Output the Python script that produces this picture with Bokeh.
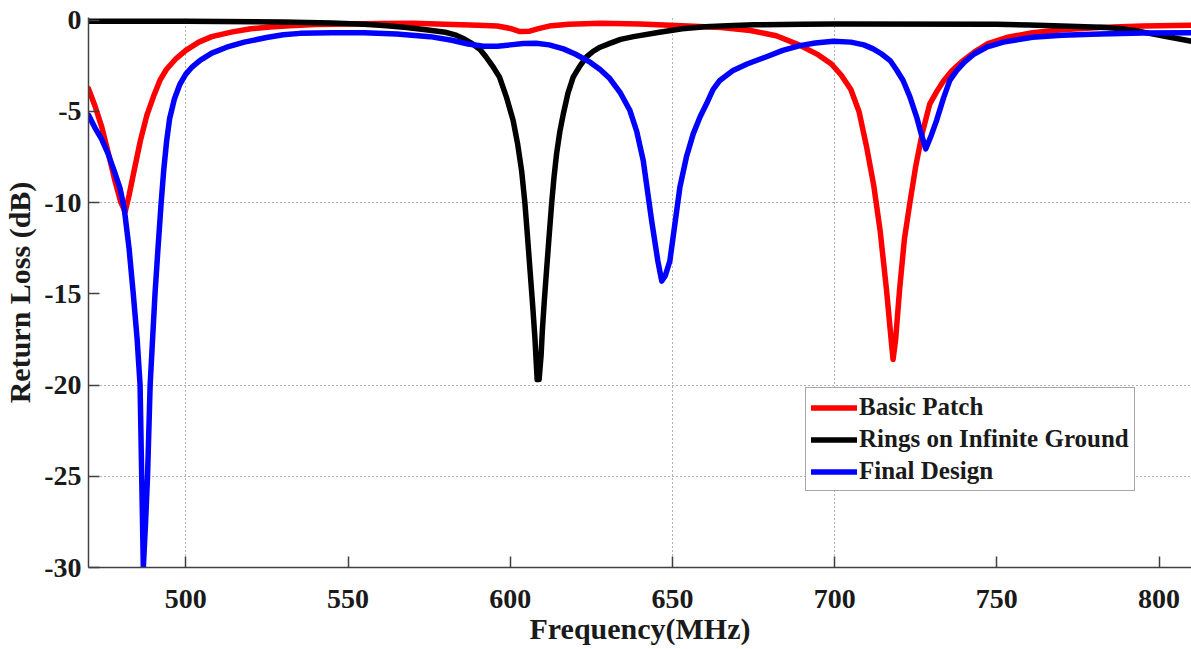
from bokeh.plotting import figure
from bokeh.models import Range1d, FixedTicker, ColumnDataSource
from bokeh.embed import file_html
from bokeh.resources import INLINE

# ---- data ----
basic_f = [470, 472, 474, 476, 478, 480, 481.3, 482.5, 484, 486, 488, 490, 492, 494, 497, 500,
           504, 508, 514, 520, 526, 532, 540, 550, 560, 570, 580, 590, 596, 600, 603, 606,
           609, 612, 618, 628, 640, 653, 665, 674, 682, 689, 695, 699, 702, 705, 707.5,
           709.8, 712, 714, 716, 717.3, 718, 718.8, 720, 721.5, 723.2, 725, 727, 729.3,
           731.5, 733.5, 736, 739, 743, 747, 753, 761, 770, 781.7, 795, 810]
basic_db = [-3.75, -4.7, -5.8, -7.2, -8.7, -10.0, -10.5, -9.6, -8.3, -6.6, -5.2, -4.2, -3.3, -2.7, -2.1, -1.65,
            -1.2, -0.9, -0.65, -0.47, -0.37, -0.3, -0.24, -0.2, -0.18, -0.17, -0.22, -0.27, -0.32, -0.45, -0.62, -0.6,
            -0.45, -0.32, -0.22, -0.17, -0.2, -0.3, -0.4, -0.56, -0.85, -1.35, -1.9, -2.4, -3.0, -3.8, -5.0,
            -6.9, -9.0, -11.5, -14.8, -17.3, -18.6, -17.5, -14.8, -12.0, -10.0, -8.0, -6.2, -4.6,
            -3.9, -3.35, -2.8, -2.3, -1.75, -1.3, -0.95, -0.68, -0.52, -0.4, -0.32, -0.28]

rings_f = [470, 500, 530, 545, 555, 562, 568, 574, 580, 583, 585.5, 588, 590.7, 592.5, 594.5,
           596.7, 598.8, 600.9, 602.3, 603.5, 604.5, 605.3, 606.1, 606.9, 607.6, 608.3, 608.9,
           609.5, 609.9, 610.5, 611.2, 612, 612.8, 613.5, 614.3, 615.3, 616.4, 617.8, 619.4,
           621.5, 623.6, 625.6, 627.7, 630.7, 634, 638, 646, 653, 660, 667, 675, 690, 700,
           750, 760, 770, 782, 788, 793, 797, 803, 810]
rings_db = [-0.05, -0.06, -0.1, -0.15, -0.22, -0.3, -0.4, -0.52, -0.66, -0.8, -1.0, -1.25, -1.6, -2.0, -2.5,
            -3.12, -4.2, -5.5, -6.8, -8.24, -9.98, -11.8, -13.7, -15.6, -17.4, -19.7, -19.7,
            -18.4, -17.0, -15.4, -13.7, -11.8, -9.98, -8.6, -7.3, -6.1, -5.1, -4.0, -3.12,
            -2.5, -2.0, -1.7, -1.48, -1.27, -1.05, -0.9, -0.66, -0.47, -0.36, -0.3, -0.25, -0.22, -0.2,
            -0.22, -0.26, -0.32, -0.38, -0.45, -0.58, -0.72, -0.92, -1.15]

final_f = [470, 472, 474, 476, 478, 479.7, 481, 482.5, 483.8, 485, 485.9, 486.4, 486.9, 487.6,
           488.2, 489, 490.5, 491.5, 492.4, 493.2, 494.1, 495, 496.5, 498.2, 500, 502, 504.4,
           508, 512.6, 518, 524.9, 530, 535.2, 545, 555, 565, 575.3, 582, 587, 591.7, 596,
           600, 604, 608, 612, 616.4, 620, 624.6, 627.7, 630.7, 634, 636.9, 639, 641, 643.6,
           645.5, 646.7, 647.8, 649.2, 650.5, 652.3, 654.3, 656.4, 658.5, 660.5, 662.5, 664.6,
           668.7, 673, 679, 684, 689.3, 694, 699.6, 705, 709, 711.9, 714.5, 717.1, 719, 721.1,
           723.2, 725.3, 726.8, 728.1, 729.8, 731.4, 733.5, 735.5, 737.6, 740, 743, 746.8, 752,
           761, 770, 781.7, 795, 810]
final_db = [-5.2, -5.9, -6.5, -7.3, -8.3, -9.2, -10.3, -12.5, -15.0, -17.5, -20.0, -25.0, -30.0, -27.5,
            -25.0, -20.0, -15.0, -12.3, -10.0, -8.2, -6.6, -5.4, -4.3, -3.5, -2.95, -2.55, -2.2,
            -1.8, -1.48, -1.2, -0.95, -0.8, -0.72, -0.68, -0.68, -0.75, -0.9, -1.1, -1.3, -1.42, -1.42,
            -1.35, -1.28, -1.26, -1.35, -1.57, -1.85, -2.3, -2.7, -3.2, -4.0, -4.95, -6.1, -7.7, -11.0,
            -13.2, -14.3, -14.0, -13.2, -11.5, -9.15, -7.5, -6.23, -5.3, -4.58, -3.8, -3.3,
            -2.75, -2.4, -2.0, -1.65, -1.39, -1.25, -1.15, -1.2, -1.35, -1.57, -1.85, -2.21, -2.7, -3.3,
            -4.2, -5.32, -6.3, -7.05, -6.3, -5.5, -4.3, -3.3, -2.76, -2.3, -1.85, -1.48, -1.2,
            -0.93, -0.82, -0.75, -0.7, -0.68]

x_ticks = [500, 550, 600, 650, 700, 750, 800]
y_ticks = [0, -5, -10, -15, -20, -25, -30]
x_grid = [500, 650, 700]
y_grid = [-10, -20, -25]
x_title = "Frequency(MHz)"
y_title = "Return Loss (dB)"

FONT = "Liberation Serif"

p = figure(width=1191, height=649, output_backend="svg", toolbar_location=None,
           x_range=Range1d(470, 810), y_range=Range1d(-30, 0.15),
           min_border_left=88, min_border_right=0, min_border_top=17, min_border_bottom=82)
p.outline_line_color = None
p.background_fill_color = "white"
p.border_fill_color = "white"

series = [(basic_f, basic_db, "red", "Basic Patch"),
          (rings_f, rings_db, "black", "Rings on Infinite Ground"),
          (final_f, final_db, "blue", "Final Design")]
for fx, fy, col, lab in series:
    src = ColumnDataSource(dict(x=fx, y=fy))
    p.line("x", "y", source=src, line_color=col, line_width=5.5, legend_label=lab,
           line_cap="round", line_join="round")

# axes
for ax in (p.xaxis[0], p.yaxis[0]):
    ax.axis_line_color = "#404040"
    ax.axis_line_width = 1.5
    ax.major_tick_line_color = "#404040"
    ax.major_tick_line_width = 1.5
    ax.major_tick_in = 11
    ax.major_tick_out = 0
    ax.minor_tick_line_color = None
    ax.major_label_text_font = FONT
    ax.major_label_text_font_style = "bold"
    ax.major_label_text_font_size = "28px"
    ax.major_label_text_color = "#1a1a1a"
    ax.axis_label_text_font = FONT
    ax.axis_label_text_font_style = "bold"
    ax.axis_label_text_font_size = "30px"
    ax.axis_label_text_color = "#1a1a1a"

p.xaxis.ticker = FixedTicker(ticks=x_ticks)
p.yaxis.ticker = FixedTicker(ticks=y_ticks)
p.xaxis.major_label_overrides = {t: str(t) for t in x_ticks}
p.yaxis.major_label_overrides = {t: str(t) for t in y_ticks}
p.xaxis.axis_label = x_title
p.yaxis.axis_label = y_title
p.xaxis.major_label_standoff = 22
p.xaxis.axis_label_standoff = 1
p.xaxis.axis_label_text_line_height = 0.8
p.yaxis.major_label_standoff = 7
p.yaxis.axis_label_standoff = 5

# grid
p.xgrid.ticker = FixedTicker(ticks=x_grid)
p.ygrid.ticker = FixedTicker(ticks=y_grid)
for g in (p.xgrid[0], p.ygrid[0]):
    g.grid_line_color = "#666666"
    g.grid_line_dash = "1 3"
    g.grid_line_width = 1

# legend
lg = p.legend[0]
lg.location = (717, 76)
lg.border_line_color = "#505050"
lg.border_line_width = 1.2
lg.background_fill_color = "white"
lg.background_fill_alpha = 1
lg.label_text_font = FONT
lg.label_text_font_style = "bold"
lg.label_text_font_size = "25px"
lg.label_text_color = "#1a1a1a"
lg.glyph_width = 46
lg.glyph_height = 27
lg.label_height = 27
lg.label_standoff = 2
lg.padding = 5
lg.spacing = 4
lg.margin = 0

open("out.html", "w").write(file_html(p, INLINE))
